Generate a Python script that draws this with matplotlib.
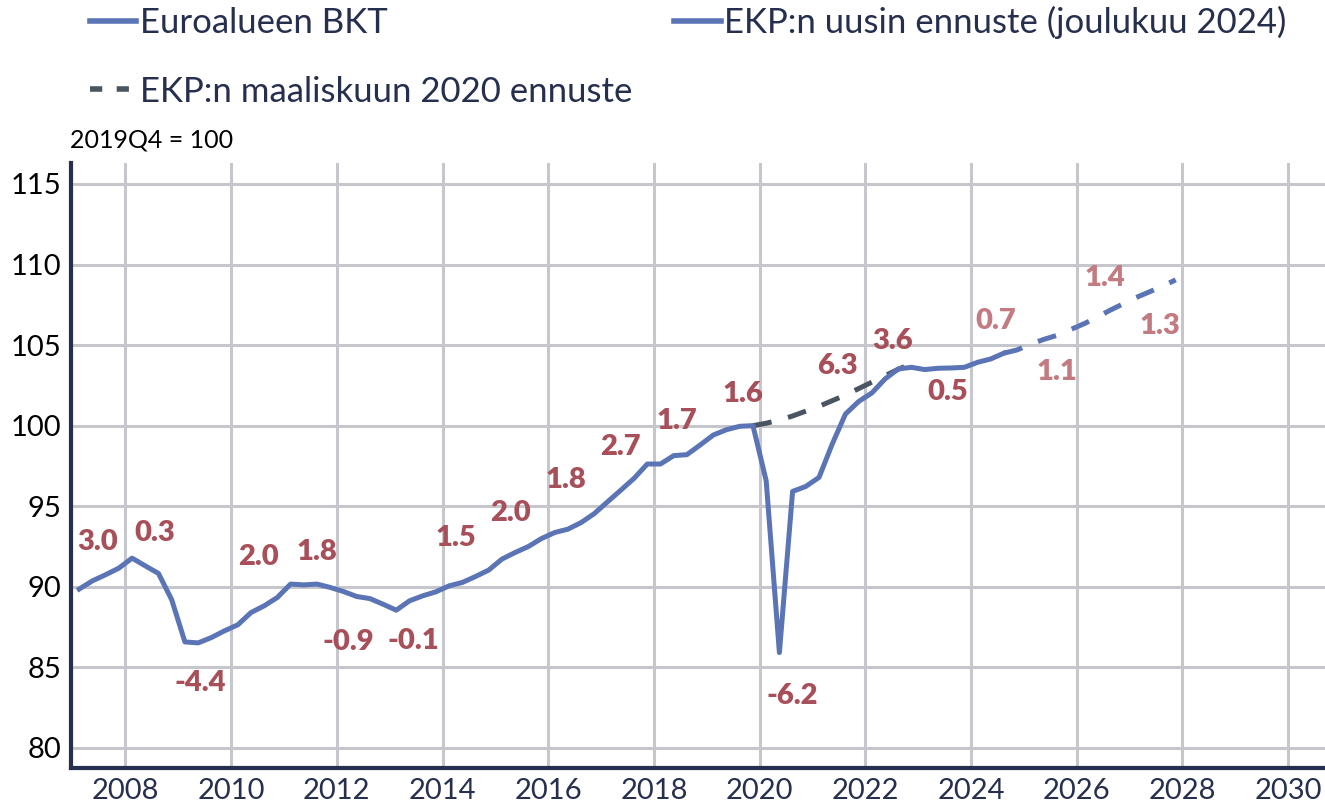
import numpy as np
import matplotlib.pyplot as plt
from matplotlib.lines import Line2D

plt.rcParams['font.family'] = ['Lato', 'DejaVu Sans']

# euro area GDP, quarterly, 2007Q1..2024Q3 (2019Q4 = 100)
gdp = [89.86, 90.37, 90.75, 91.16, 91.78, 91.30, 90.83, 89.20,
       86.58, 86.52, 86.85, 87.27, 87.64, 88.40, 88.82, 89.34,
       90.17, 90.12, 90.17, 89.96, 89.71, 89.40, 89.27, 88.92,
       88.55, 89.13, 89.44, 89.69, 90.06, 90.27, 90.64, 91.04,
       91.72, 92.13, 92.50, 93.00, 93.37, 93.58, 93.99, 94.55,
       95.28, 96.00, 96.73, 97.62, 97.62, 98.14, 98.20, 98.80,
       99.42, 99.75, 99.96, 100.00, 96.58, 85.92, 95.92, 96.23,
       96.79, 98.86, 100.72, 101.50, 102.03, 102.90, 103.52, 103.62,
       103.48, 103.56, 103.58, 103.62, 103.93, 104.14, 104.50]
gdp_start = 2007

# ECB December 2024 projection, 2024Q3..2027Q4
dec24 = [104.50, 104.70, 105.05, 105.35, 105.60, 105.95, 106.30,
         106.70, 107.15, 107.55, 107.95, 108.30, 108.65, 109.05]
dec24_start = 2024.5

# ECB March 2020 projection, 2019Q4..2022Q4
mar20 = [100.00, 100.15, 100.35, 100.60, 100.90, 101.20, 101.55,
         101.90, 102.30, 102.70, 103.10, 103.50, 103.85]
mar20_start = 2019.75

# annual growth labels (text, x, y)
labels = ['3.0', '0.3', '-4.4', '2.0', '1.8', '-0.9', '-0.1', '1.5', '2.0',
          '1.8', '2.7', '1.7', '1.6', '-6.2', '6.3', '3.6', '0.5']
label_x = [2007.48, 2008.56, 2009.41, 2010.52, 2011.62, 2012.22, 2013.45,
           2014.26, 2015.28, 2016.34, 2017.37, 2018.43, 2019.69, 2020.62,
           2021.48, 2022.52, 2023.57]
label_y = [92.81, 93.31, 84.06, 91.86, 92.13, 86.60, 86.65, 93.06, 94.55,
           96.63, 98.70, 100.27, 101.97, 83.23, 103.68, 105.24, 102.07]
fc_labels = ['0.7', '1.1', '1.4', '1.3']
fc_label_x = [2024.47, 2025.62, 2026.53, 2027.58]
fc_label_y = [106.52, 103.31, 109.17, 106.21]


def quarters(start, n):
    # quarter points are drawn at the middle of each quarter
    return start + 0.125 + 0.25 * np.arange(n)


BLUE = '#5b74b5'
GREY = '#4b5561'
RED = '#a8505a'
LIGHT_RED = '#c27b80'
NAVY = '#262f4d'

fig = plt.figure(figsize=(13.25, 8.06), dpi=100)
ax = fig.add_axes([0.0536, 0.047, 0.9464, 0.7508])

ax.plot(quarters(mar20_start, len(mar20)), mar20, color=GREY, lw=3.6,
        dashes=(3.8, 3.4), zorder=3)
ax.plot(quarters(gdp_start, len(gdp)), gdp, color=BLUE, lw=3.6, zorder=4)
ax.plot(quarters(dec24_start, len(dec24)), dec24, color=BLUE, lw=3.6,
        dashes=(3.8, 3.4), zorder=4)

for t, x, y in zip(labels, label_x, label_y):
    ax.text(x, y, t, color=RED, fontsize=21, fontweight='heavy', ha='center', va='center')
for t, x, y in zip(fc_labels, fc_label_x, fc_label_y):
    ax.text(x, y, t, color=LIGHT_RED, fontsize=21, fontweight='heavy', ha='center', va='center')

ax.set_xlim(2006.97, 2030.7)
ax.set_ylim(78.75, 116.3)
ax.set_xticks(np.arange(2008, 2031, 2))
ax.set_yticks(np.arange(80, 116, 5))
ax.grid(True, color='#c5c7cc', lw=2.2)
ax.set_axisbelow(True)
ax.tick_params(length=0, labelsize=21, pad=7)
ax.tick_params(axis='x', labelcolor=NAVY)
ax.tick_params(axis='y', labelcolor='black')
for s in ['top', 'right']:
    ax.spines[s].set_visible(False)
for s in ['left', 'bottom']:
    ax.spines[s].set_color(NAVY)
    ax.spines[s].set_linewidth(3)

fig.text(0.053, 0.826, '2019Q4 = 100', fontsize=18, color='black', va='center')

handles = [Line2D([], [], color=BLUE, lw=4),
           Line2D([], [], color=GREY, lw=4, dashes=(2.2, 2.6)),
           Line2D([], [], color=BLUE, lw=4)]
names = ['Euroalueen BKT', 'EKP:n maaliskuun 2020 ennuste',
         'EKP:n uusin ennuste (joulukuu 2024)']
fig.legend(handles, names, ncol=2, loc='upper left', bbox_to_anchor=(0.044, 1.031),
           frameon=False, fontsize=25, labelcolor=NAVY, handlelength=1.35,
           handletextpad=0.1, columnspacing=1.2, labelspacing=1.04)

fig.savefig('out.png', dpi=100)
